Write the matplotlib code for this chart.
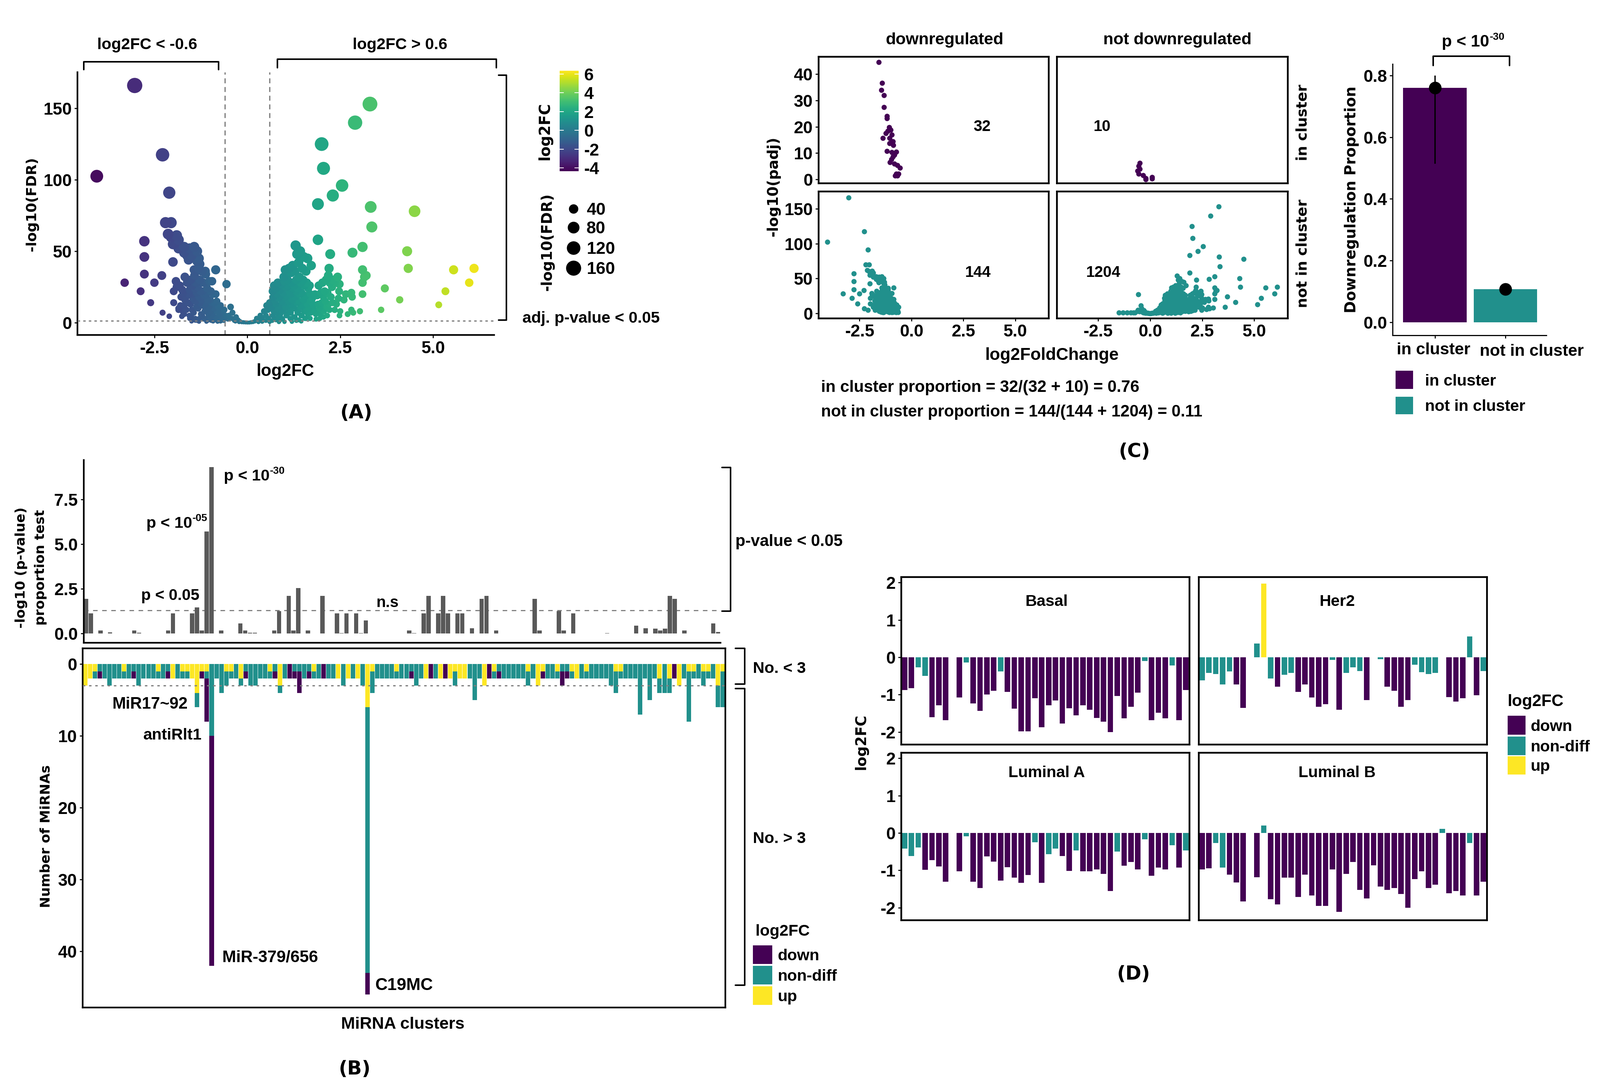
import matplotlib
matplotlib.use("Agg")
import matplotlib.pyplot as plt
import numpy as np
from matplotlib.patches import Rectangle

W, H = 4297, 2934
DOWN, NONDIFF, UP = "#440154", "#21908C", "#FDE725"
cat_col = {"D": DOWN, "T": NONDIFF, "Y": UP}

plt.rcParams["font.family"] = ["Liberation Sans"]
plt.rcParams["font.weight"] = "bold"
plt.rcParams["axes.unicode_minus"] = False

# panel A - volcano
hi_x = [-3.03, -4.05, -2.28, -2.1, -2.2, -2.05, -2.77, -2.77, -2.13, -1.9, -1.85, -1.43, -1.35, -1.58, -2.0,
        -1.28, -1.43, -1.13, -0.85, -2.3, -2.77, -2.5, -3.3, -2.87, -2.6, -2.28, -2.1, -1.92, -1.98, -1.98,
        -1.85, -1.76, -1.68, -0.95, -0.56, -0.85, -1.95, -1.7, -1.62,
        -1.7, -1.55, -2.0, -1.85, -2.05, -1.5, -1.35, -1.3, -1.9, -1.75, -1.65, -1.85, -1.7, -1.55, -1.4,
        3.3, 2.9, 2.0, 2.05, 2.55, 2.3, 1.9, 3.32, 4.5, 3.35, 1.9, 3.1, 2.83, 2.23, 4.3, 4.33, 5.55, 6.1, 5.97,
        5.33, 5.15, 4.1, 3.7, 3.6, 2.43, 2.35, 2.47, 2.48, 2.5, 2.48, 2.65, 2.6, 2.8, 2.82, 2.8, 2.7, 2.85, 3.03,
        3.1, 3.1, 3.15, 3.2, 3.1,
        2.25, 2.3, 2.15, 2.05, 1.95, 1.85, 2.4, 2.35, 2.45, 2.05, 1.75, 1.65, 1.55, 1.45, 1.2, 1.0, 0.85, 0.6, 0.5, 0.4, 0.3]
hi_y = [166, 102.5, 117.5, 91, 70, 70, 57, 46, 62, 61, 52, 53, 50, 44, 42.5,
        41, 37, 36, 37, 33, 34, 28, 28, 22, 14, 7, 4.5, 29, 22, 14,
        9, 4.5, 32, 29, 27, 20, 56, 49, 47,
        53, 52, 55, 58, 60, 47, 43, 45, 25, 23, 18, 10, 6, 3, 1.6,
        153, 140, 125, 108, 96, 89, 83, 81, 78, 67, 58, 53, 49, 48, 50, 38, 37, 38, 28,
        22, 12.5, 16, 24, 9, 32, 28, 22, 27, 8, 5, 20, 16, 21, 18, 9, 6, 7, 8,
        20, 37, 32, 33, 28,
        18, 14, 5, 4, 3, 2.5, 13, 9, 17, 18, 17, 16, 3, 1, 0.7, 0.6, 0.5, 0.6, 1.5, 0.8, 0.5]
left_x = [-1.52, -1.48, -1.55, -1.5, -1.46, -1.53, -1.49, -1.51, -1.47,
          -1.42, -1.38, -1.41, -1.36, -1.43, -1.39, -1.37, -1.44, -1.4, -1.35,
          -1.31, -1.28, -1.33, -1.26, -1.3, -1.27, -1.32, -1.25, -1.29, -1.34,
          -1.22, -1.18, -1.2, -1.16, -1.23, -1.19, -1.15, -1.21, -1.17,
          -1.12, -1.08, -1.1, -1.06, -1.13, -1.09, -1.05, -1.11, -1.07,
          -1.02, -0.98, -1.0, -0.96, -1.03, -0.99, -0.95, -1.01, -0.97,
          -0.92, -0.88, -0.9, -0.86, -0.93, -0.89, -0.85, -0.91,
          -0.82, -0.78, -0.8, -0.76, -0.83, -0.79, -0.75,
          -0.72, -0.68, -0.7, -0.66, -0.73,
          -0.62, -0.58, -0.6, -0.64,
          -1.72, -1.68, -1.7, -1.74,
          -1.62, -1.58, -1.6, -1.64, -1.56,
          -1.82, -1.78, -1.8,
          -1.5, -1.3, -1.1, -0.92, -0.8, -0.72,
          -0.5, -0.52, -0.45, -0.4, -0.41, -0.35, -0.3, -0.32, -0.25, -0.2, -0.22, -0.15, -0.1, -0.05]
left_y = [30, 26, 23, 20, 17, 13, 9, 5, 2,
          33, 28, 24, 21, 18, 15, 11, 7, 3, 1.5,
          38, 30, 25, 22, 18, 14, 10, 6, 3, 1.6,
          36, 28, 22, 19, 16, 12, 8, 5, 2.5,
          34, 24, 20, 16, 13, 9, 6, 3, 1.5,
          29, 22, 16, 14, 11, 8, 5, 3, 1.5,
          20, 14, 10, 8, 6, 4, 2, 1.4,
          15, 11, 8, 6, 4, 2.5, 1.4,
          12, 8, 5, 3, 1.5,
          9, 5, 3, 1.5,
          21, 16, 12, 8,
          28, 20, 14, 9, 5,
          26, 18, 12,
          1, 0.8, 0.8, 1, 0.8, 1,
          5, 2.5, 11, 7, 3, 1.5, 4, 1, 2, 1, 0.5, 0.4, 0.3, 0.2]
right_x = [0.0, 0.05, 0.1, 0.15, 0.2, 0.25, 0.3, 0.35, 0.4, 0.45, 0.5, 0.52, 0.55, 0.57, 0.6, 0.62,
           0.72, 0.68, 0.7, 0.74, 0.66, 0.71, 0.69, 0.73, 0.67,
           0.82, 0.78, 0.8, 0.84, 0.76, 0.81, 0.79, 0.83, 0.77,
           0.92, 0.88, 0.9, 0.94, 0.86, 0.91, 0.89, 0.93, 0.87,
           1.02, 0.98, 1.0, 1.04, 0.96, 1.01, 0.99, 1.03, 0.97, 1.05, 0.95,
           1.12, 1.08, 1.1, 1.14, 1.06, 1.11, 1.09, 1.13, 1.07, 1.15,
           1.22, 1.18, 1.2, 1.24, 1.16, 1.21, 1.19, 1.23, 1.17, 1.25, 1.18,
           1.3, 1.34, 1.28, 1.32, 1.26, 1.31, 1.29, 1.33, 1.27, 1.35, 1.28, 1.32,
           1.42, 1.38, 1.4, 1.44, 1.36, 1.41, 1.39, 1.43, 1.37, 1.45, 1.38,
           1.52, 1.48, 1.5, 1.54, 1.46, 1.51, 1.49, 1.53, 1.47,
           1.62, 1.58, 1.6, 1.64, 1.56, 1.61, 1.59, 1.63, 1.57,
           1.72, 1.68, 1.7, 1.74, 1.66, 1.71, 1.69,
           1.82, 1.78, 1.8, 1.84,
           1.92, 1.88, 1.9, 1.94, 1.86,
           2.02, 1.98, 2.0, 2.04, 1.96,
           2.12, 2.08, 2.1, 2.14, 2.06,
           2.2, 2.18, 2.22, 2.16, 2.19, 2.21, 2.3, 2.28]
right_y = [0.1, 0.1, 0.3, 0.5, 1, 3, 2, 5, 3, 8, 5, 12, 9, 3, 14, 1.5,
           26, 22, 18, 15, 11, 8, 5, 3, 1.5,
           28, 24, 20, 17, 13, 10, 7, 4, 2,
           27, 23, 19, 15, 12, 9, 6, 3, 1.5,
           37, 32, 29, 25, 21, 18, 14, 11, 8, 5, 2.5,
           38, 30, 26, 22, 19, 15, 12, 9, 6, 3,
           40, 35, 28, 24, 20, 16, 13, 10, 7, 4, 2,
           54, 48, 36, 30, 26, 22, 18, 14, 10, 7, 4, 1.5,
           50, 42, 32, 28, 24, 20, 15, 11, 8, 5, 2,
           46, 38, 30, 26, 21, 16, 12, 8, 5,
           45, 36, 28, 24, 19, 13, 9, 6, 3,
           40, 26, 20, 14, 10, 7, 3,
           20, 12, 9, 6,
           26, 19, 13, 10, 7,
           28, 21, 14, 10, 6,
           30, 22, 15, 11, 8,
           38, 33, 28, 21, 13, 9, 30, 25]
vol_x = np.array(hi_x + left_x + right_x)
vol_y = np.array(hi_y + left_y + right_y)
size_breaks = [40, 80, 120, 160]

# panel C
clu_down_x = [-1.58, -1.42, -1.45, -1.32, -1.32, -1.18, -1.18, -1.08, -1.0, -1.15, -1.24, -1.37, -1.05, -0.95, -0.9, -1.05,
              -0.87, -1.18, -0.74, -0.95, -0.82, -0.9, -0.97, -1.03, -0.82, -0.68, -0.55, -0.74, -0.63, -0.79, -0.68, -0.95]
clu_down_y = [44.6, 36.6, 34, 32, 27.4, 24, 23.2, 19.8, 18.9, 18.4, 17.5, 15.7, 15.7, 14.4, 14.4, 13.8,
              13, 10.7, 10.5, 10.3, 9.4, 8.6, 7.6, 6.5, 6, 5.4, 4.4, 2.2, 2.2, 1.4, 1.4, 17]
clu_other_x = [-0.5, -0.55, -0.6, -0.55, -0.34, -0.21, -0.21, 0.1, 0.1, -0.5]
clu_other_y = [6.2, 5.1, 3.2, 2.2, 1.6, 0.5, 0, 0.8, 0.3, 4]
prop_names = ["in cluster", "not in cluster"]
prop_vals = [0.76, 0.107]
prop_low = [0.514, 0.09]
prop_high = [0.80, 0.125]

# panel B
pval_bar = [1.94, 1.12, 0, .17, 0, .07, 0, 0, 0, 0,
            .17, .05, 0, 0, 0, 0, 0, .17, 1.12, 0,
            0, 0, 1.12, 1.46, .17, 5.7, 9.3, 0, .17, 0,
            0, 0, .57, .17, .05, .05, 0, 0, 0, .17,
            1.25, 0, 2.1, .17, 2.55, 0, .17, 0, 0, 2.1,
            0, 0, 1.12, .03, 1.12, 0, 1.12, .03, .73, 0,
            0, 0, 0, 0, 0, 0, 0, .17, .03, 0,
            1.12, 2.1, 0, 1.12, 2.1, 1.12, 0, 1.12, 1.12, 0,
            .29, 0, 1.94, 2.1, 0, .17, 0, 0, 0, 0,
            0, 0, 0, 1.94, .17, 0, 0, 0, 1.25, .17,
            0, 1.12, 0, 0, 0, 0, 0, 0, .03, 0,
            0, 0, 0, 0, .43, 0, .29, 0, .28, .17,
            .28, 2.1, 1.94, 0, .17, 0, 0, 0, 0, 0,
            .57, .08]
up_n = [3, 2, 1, 0, 0, 0, 0, 0, 1, 0,
        0, 0, 0, 0, 0, 1, 0, 0, 2, 0,
        1, 1, 2, 4, 1, 1, 0, 0, 0, 1,
        1, 0, 2, 0, 0, 0, 0, 0, 1, 0,
        3, 0, 0, 0, 0, 0, 0, 1, 0, 0,
        0, 0, 2, 0, 2, 0, 2, 0, 6, 1,
        0, 0, 0, 0, 1, 0, 0, 0, 0, 0,
        2, 0, 0, 2, 0, 2, 1, 2, 2, 0,
        0, 0, 3, 0, 1, 0, 0, 0, 0, 0,
        0, 1, 0, 3, 1, 0, 0, 1, 0, 0,
        1, 2, 0, 1, 0, 0, 0, 0, 0, 1,
        1, 0, 0, 0, 0, 0, 0, 0, 2, 0,
        2, 0, 3, 0, 1, 1, 0, 1, 1, 0,
        3, 1]
nondiff_n = [0, 0, 1, 1, 2, 3, 2, 2, 1, 2,
             1, 3, 2, 2, 2, 1, 2, 1, 0, 2,
             1, 1, 0, 2, 0, 1, 10, 2, 4, 2,
             1, 2, 1, 1, 3, 3, 2, 2, 1, 1,
             1, 2, 0, 1, 1, 2, 1, 1, 2, 0,
             2, 2, 0, 3, 0, 2, 0, 3, 37, 3,
             2, 2, 2, 2, 1, 2, 2, 1, 3, 2,
             0, 0, 2, 0, 0, 0, 2, 0, 0, 2,
             5, 2, 0, 0, 1, 1, 2, 2, 2, 2,
             2, 2, 2, 0, 0, 2, 2, 1, 1, 1,
             1, 0, 2, 1, 2, 2, 2, 2, 3, 3,
             1, 2, 2, 2, 7, 2, 5, 2, 2, 4,
             2, 0, 0, 2, 7, 1, 2, 2, 1, 2,
             3, 5]
down_n = [0, 0, 0, 1, 0, 0, 0, 0, 0, 0,
          1, 0, 0, 0, 0, 0, 0, 1, 0, 0,
          0, 0, 0, 0, 1, 6, 32, 0, 0, 0,
          0, 0, 0, 1, 0, 0, 0, 0, 0, 1,
          0, 0, 2, 1, 3, 0, 1, 0, 0, 2,
          0, 0, 0, 0, 0, 0, 0, 0, 3, 0,
          0, 0, 0, 0, 0, 0, 0, 1, 0, 0,
          0, 2, 0, 0, 2, 0, 0, 0, 0, 0,
          0, 0, 0, 2, 0, 1, 0, 0, 0, 0,
          0, 0, 0, 0, 1, 0, 0, 0, 2, 1,
          0, 0, 0, 0, 0, 0, 0, 0, 0, 0,
          0, 0, 0, 0, 0, 0, 0, 0, 0, 0,
          0, 2, 0, 0, 0, 0, 0, 0, 0, 0,
          0, 0]

# panel D, nan = no bar
nan = float("nan")
basal = [-.88, -.83, -.27, -.5, -1.6, -1.28, -1.68, nan, -1.08, -.14, -1.23, -1.43, -1.0, -.9, -.38, -.93, -1.37, -1.98,
         -1.98, -1.1, -1.87, -1.28, -1.16, -1.77, -1.36, -1.55, -1.28, -1.4, -1.62, -1.72, -2.0, -1.04, -1.63, -1.32,
         -.95, -.1, -1.68, -1.48, -1.63, -.22, -1.68, -.88]
her2 = [-.62, -.42, -.45, -.73, -.38, -.73, -1.35, nan, .37, 1.97, -.57, -.79, -.47, -.42, -.93, -.73, -1.08, -1.32,
        -1.25, -.07, -1.4, -.42, -.27, -.37, -1.15, nan, -.05, -.79, -.9, -1.32, -1.15, -.2, -.4, -.45, -.42, nan,
        -1.07, -1.19, -1.1, .56, -1.02, -.37]
lum_a = [-.42, -.62, -.39, -.99, -.73, -.9, -1.3, nan, -1.03, -.09, -1.3, -1.47, -.63, -.77, -1.27, -.92, -1.2, -1.33,
         -1.13, -.25, -1.33, -.57, -.42, -.62, -1.02, -.47, -1.03, -1.03, -.98, -1.1, -1.55, -.5, -.88, -.78, -.98,
         -.17, -1.15, -.93, -.98, -.33, -.93, -.47]
lum_b = [-.98, -.95, -.27, -.93, -1.12, -1.32, -1.83, nan, -1.19, .2, -1.77, -1.91, -1.2, -1.2, -1.71, -1.12, -1.67,
         -1.95, -1.95, -.98, -2.11, -1.1, -.78, -1.52, -1.75, -.87, -1.43, -1.52, -1.47, -1.63, -2.0, -1.23, -1.03,
         -1.47, -1.38, .11, -1.61, -1.55, -1.67, -.27, -1.67, -1.3]
basal_cat = "DDTTDDDDDTDDDDTDDDDDDDDDDDDDDDDDDDDTDDDTDD"
her2_cat = "TTTTTDDDTYTDTTDDDDDTDTTTDDTDDDDTTTTDDDDTDT"
lum_a_cat = "TTTDDDDDDTDDDDDDDDDTDTTDDTDDDDDTDDDTDDDTDT"
lum_b_cat = "DDTTDDDDDTDDDDDDDDDDDDDDDDDDDDDDDDDTDDDTDD"

dpi = 100
fig = plt.figure(figsize=(W / dpi, H / dpi), dpi=dpi)
PT = 72 / dpi


def px_ax(x0, y0, x1, y1, **kw):
    return fig.add_axes([x0 / W, 1 - y1 / H, (x1 - x0) / W, (y1 - y0) / H], **kw)


def style(ax, box=False, lw=3.2, size=33):
    for s in ["top", "right"]:
        ax.spines[s].set_visible(box)
    for s in ax.spines.values():
        s.set_linewidth(lw)
    ax.tick_params(labelsize=size, width=2, length=6, pad=5)
    ax.set_facecolor("none")


def fdr_size(y):
    # ggplot area scale, in pixels of diameter
    d = 10 + 31 * np.sqrt(np.asarray(y, float) / 166)
    return (d * PT) ** 2


# ---------- A
axA = px_ax(208, 194, 1327, 900)
style(axA)
norm = plt.Normalize(-4.36, 6.36)
order = np.argsort(vol_y)
axA.scatter(vol_x[order], vol_y[order], c=vol_x[order], cmap="viridis", norm=norm, s=fdr_size(vol_y[order]), linewidths=0)
axA.axvline(-0.6, color="#7f7f7f", lw=2.4, ls=(0, (4, 3)), zorder=0)
axA.axvline(0.6, color="#7f7f7f", lw=2.4, ls=(0, (4, 3)), zorder=0)
axA.axhline(1.3, color="#7f7f7f", lw=2.4, ls=(0, (2, 2.5)), zorder=3)
axA.set_xlim(-4.57, 6.64)
axA.set_ylim(-8.6, 175.3)
axA.set_xticks([-2.5, 0, 2.5, 5])
axA.set_xticklabels(["-2.5", "0.0", "2.5", "5.0"])
axA.set_yticks([0, 50, 100, 150])

cax = px_ax(1503, 190, 1554, 460)
sm = plt.cm.ScalarMappable(norm=norm, cmap="viridis")
cb = fig.colorbar(sm, cax=cax)
cb.outline.set_visible(False)
cb.set_ticks([-4, -2, 0, 2, 4, 6])
cb.ax.tick_params(labelsize=33, length=0, pad=10)
for v in [-4, -2, 0, 2, 4, 6]:
    cax.plot([0, 0.2], [v, v], color="white", lw=1.5, transform=cax.get_yaxis_transform())
    cax.plot([0.8, 1], [v, v], color="white", lw=1.5, transform=cax.get_yaxis_transform())

# ---------- C facets
xlim_c = (-4.48, 6.6)
down_mask = (vol_x < -0.6) & (vol_y >= 1.3)
facets = [
    ((2198, 152, 2816, 492), clu_down_x, clu_down_y, DOWN, (-1.4, 46.7), [0, 10, 20, 30, 40]),
    ((2838, 152, 3458, 492), clu_other_x, clu_other_y, DOWN, (-1.4, 46.7), []),
    ((2198, 514, 2816, 855), vol_x[down_mask], vol_y[down_mask], NONDIFF, (-7, 175), [0, 50, 100, 150]),
    ((2838, 514, 3458, 855), vol_x[~down_mask], vol_y[~down_mask], NONDIFF, (-7, 175), []),
]
counts = [(3.4, 20, "32"), (-2.3, 20, "10"), (3.2, 58, "144"), (-2.26, 58, "1204")]
for i, (box, fx, fy, col, yl, yt) in enumerate(facets):
    ax = px_ax(*box)
    style(ax, box=True, lw=3.4)
    ax.scatter(fx, fy, s=(14 * PT) ** 2, c=col, linewidths=0)
    ax.set_xlim(*xlim_c)
    ax.set_ylim(*yl)
    ax.set_yticks(yt)
    ax.set_xticks([-2.5, 0, 2.5, 5] if i >= 2 else [])
    ax.set_xticklabels(["-2.5", "0.0", "2.5", "5.0"] if i >= 2 else [])
    ax.text(counts[i][0], counts[i][1], counts[i][2], fontsize=30, ha="center", va="center")

axP = px_ax(3740, 172, 4153, 901)
style(axP, lw=2.2)
axP.bar([0, 1], prop_vals, width=0.9, color=[DOWN, NONDIFF])
axP.errorbar([0, 1], prop_vals, yerr=[np.array(prop_vals) - prop_low, np.array(prop_high) - prop_vals], fmt="o",
             color="black", ms=25 * PT * 1.3, lw=2.6, capsize=0)
axP.set_xlim(-0.6, 1.58)
axP.set_ylim(-0.042, 0.837)
axP.set_yticks([0, 0.2, 0.4, 0.6, 0.8])
axP.set_xticks([0, 1])
axP.set_xticklabels([])

# ---------- B
x_b = np.arange(len(pval_bar))
axT = px_ax(224.5, 1236, 1935, 1727)
style(axT)
axT.bar(x_b, pval_bar, width=0.88, color="#595959")
axT.axhline(1.3, color="#7f7f7f", lw=2.2, ls=(0, (4, 4)), zorder=0)
axT.set_xlim(-0.5, 131.5)
axT.set_ylim(-0.52, 9.7)
axT.set_xticks([])
axT.set_yticks([0, 2.5, 5, 7.5])
axT.set_yticklabels(["0.0", "2.5", "5.0", "7.5"])

axL = px_ax(222, 1742, 1948, 2707)
style(axL, box=True)
bot = np.zeros(len(x_b))
for vals, col in [(up_n, UP), (nondiff_n, NONDIFF), (down_n, DOWN)]:
    axL.bar(x_b, vals, bottom=bot, width=0.92, color=col)
    bot = bot + np.array(vals)
axL.axhline(3, color="#7f7f7f", lw=2.4, ls=(0, (2, 3)), zorder=3)
axL.set_xlim(-0.5, 131.5)
axL.set_ylim(47.8, -2.2)
axL.set_xticks([])
axL.set_yticks([0, 10, 20, 30, 40])

# ---------- D
x_d = np.arange(42)
panels = [
    ((2420, 1550, 3194, 2000), basal, basal_cat, "Basal", True, 0.505, 0.85),
    ((3219, 1550, 3993, 2000), her2, her2_cat, "Her2", False, 0.48, 0.85),
    ((2420, 2022, 3194, 2472), lum_a, lum_a_cat, "Luminal A", True, 0.505, 0.878),
    ((3219, 2022, 3993, 2472), lum_b, lum_b_cat, "Luminal B", False, 0.48, 0.878),
]
for box, vals, cats, name, left, tx, ty in panels:
    ax = px_ax(*box)
    style(ax, box=True, lw=3.4)
    ax.bar(x_d, vals, width=0.8, color=[cat_col[c] for c in cats])
    ax.set_xlim(-0.5, 41.5)
    ax.set_ylim(-2.33, 2.15)
    ax.set_xticks([])
    ax.set_yticks([-2, -1, 0, 1, 2] if left else [])
    ax.text(tx, ty, name, transform=ax.transAxes, fontsize=31, ha="center", va="center")

# ---------- labels, brackets and legends in figure pixels
ov = fig.add_axes([0, 0, 1, 1], zorder=10)
ov.set_xlim(0, W)
ov.set_ylim(H, 0)
ov.axis("off")


def txt(x, y, s, size=31, ha="center", rot=0, wide=False, va="center"):
    dx, dy = (0, 4) if rot == 0 else (4, 0)
    t = ov.text(x + dx, y + dy, s, fontsize=size, ha=ha, va=va, rotation=rot, rotation_mode="anchor")
    if wide:
        t.set_family(["DejaVu Sans"])
    return t


def power(x, y, base, exp, size=32):
    # base text ends at x, the exponent starts there
    txt(x, y, base, size=size, ha="right")
    txt(x + 1, y - 14, exp, size=20, ha="left")


def line(xs, ys, lw=3):
    ov.plot(xs, ys, color="black", lw=lw, solid_capstyle="round", solid_joinstyle="round")


def bracket_down(x0, x1, y0, y1):
    line([x0, x0, x1, x1], [y1, y0, y0, y1])


def bracket_right(x0, x1, y0, y1):
    line([x0, x1, x1, x0], [y0, y0, y1, y1])


def swatches(x0, x1, rows, xt, labels, cols, size=31):
    for (y0, y1), lab, c in zip(rows, labels, cols):
        ov.add_patch(Rectangle((x0, y0), x1 - x0, y1 - y0, color=c, lw=0))
        txt(xt, (y0 + y1) / 2, lab, size=size, ha="left")


# A
bracket_down(225, 587, 166, 187)
bracket_down(745, 1333, 159, 182)
bracket_right(1339, 1360, 202, 860)
txt(395, 117, "log2FC < -0.6")
txt(1074, 117, "log2FC > 0.6")
txt(1587, 852, "adj. p-value < 0.05")
txt(766, 994, "log2FC", size=33)
txt(82, 548, "-log10(FDR)", size=27, rot=90, wide=True)
txt(1460, 352, "log2FC", size=29, rot=90, wide=True)
txt(1466, 650, "-log10(FDR)", size=28, rot=90, wide=True)
for yy, br in zip([561, 611, 666, 720], size_breaks):
    ov.scatter([1540], [yy], s=fdr_size(br), c="black", linewidths=0)
    txt(1575, yy, str(br), size=33, ha="left")
txt(957, 1106, "(A)", size=37, wide=True)

# C
txt(2536, 103, "downregulated", size=32)
txt(3162, 103, "not downregulated", size=32)
txt(3494, 329, "in cluster", size=28, rot=90, wide=True)
txt(3494, 681, "not in cluster", size=28, rot=90, wide=True)
txt(2825, 951, "log2FoldChange", size=33)
txt(2073, 501, "-log10(padj)", size=28, rot=90, wide=True)
txt(2205, 1037, "in cluster proportion = 32/(32 + 10) = 0.76", ha="left", size=31.7)
txt(2205, 1104, "not in cluster proportion = 144/(144 + 1204) = 0.11", ha="left", size=31.5)
bracket_down(3849, 4054, 151, 176)
power(4000, 110, "p < 10", "-30")
txt(3626, 536, "Downregulation Proportion", size=28.5, rot=90, wide=True)
txt(3850, 936, prop_names[0], size=32)
txt(4114, 941, prop_names[1], size=32)
swatches(3748, 3795, [(996, 1045), (1066, 1113)], 3827, prop_names, [DOWN, NONDIFF], size=31)
txt(3047, 1210, "(C)", size=37, wide=True)

# B
bracket_right(1939, 1962, 1256, 1642)
bracket_right(1975, 2000, 1742, 1838)
bracket_right(1975, 2000, 1850, 2647)
txt(1975, 1452, "p-value < 0.05", ha="left", size=31.5)
txt(2022, 1793, "No. < 3", ha="left")
txt(2093, 2250, "No. > 3")
power(724, 1276, "p < 10", "-30", size=31)
power(516, 1403, "p < 10", "-05", size=31)
txt(379, 1597, "p < 0.05", ha="left", size=30.5)
txt(1010, 1616, "n.s", size=30, ha="left")
txt(403, 1888, "MiR17~92", size=31.5)
txt(463, 1972, "antiRlt1", size=31)
txt(726, 2570, "MiR-379/656", size=32)
txt(1085, 2644, "C19MC", size=33)
txt(1082, 2748, "MiRNA clusters", size=32.5)
txt(53, 1525, "-log10 (p-value)", size=26, rot=90, wide=True)
txt(105, 1525, "proportion test", size=26, rot=90, wide=True)
txt(120, 2247, "Number of MiRNAs", size=26, rot=90, wide=True)
txt(2102, 2499, "log2FC", size=31)
swatches(2022, 2074, [(2540, 2590), (2595, 2645), (2650, 2700)], 2088, ["down", "non-diff", "up"], [DOWN, NONDIFF, UP])
txt(953, 2869, "(B)", size=37, wide=True)

# D
txt(2309, 1993, "log2FC", size=28, rot=90, wide=True)
txt(4049, 1882, "log2FC", ha="left", size=32)
swatches(4049, 4097, [(1923, 1974), (1979, 2029), (2032, 2081)], 4110, ["down", "non-diff", "up"], [DOWN, NONDIFF, UP], size=31)
txt(3044, 2614, "(D)", size=37, wide=True)

fig.savefig("out.png", dpi=dpi, facecolor="white")
